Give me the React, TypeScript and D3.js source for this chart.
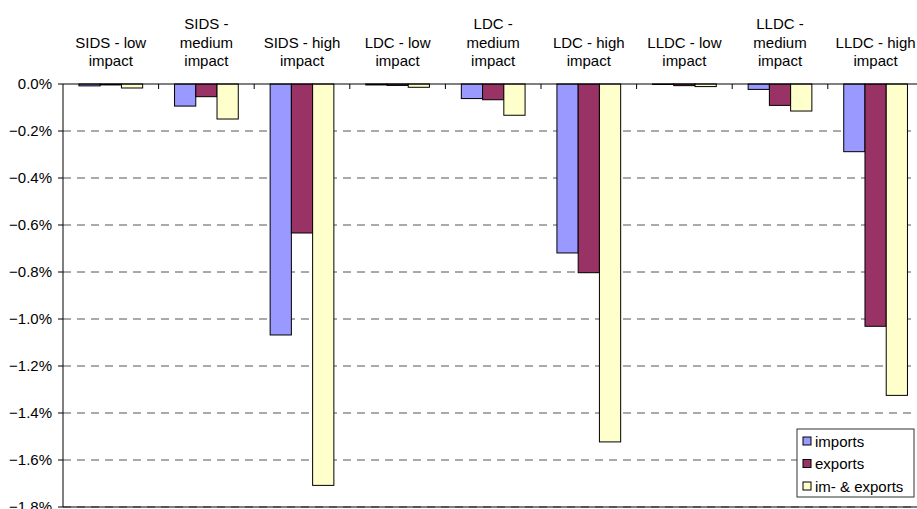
import React from 'react';
import * as d3 from 'd3';

const categories = [
  'SIDS - low impact', 'SIDS - medium impact', 'SIDS - high impact',
  'LDC - low impact', 'LDC - medium impact', 'LDC - high impact',
  'LLDC - low impact', 'LLDC - medium impact', 'LLDC - high impact',
];
const categoryLines = [
  ['SIDS - low', 'impact'], ['SIDS -', 'medium', 'impact'], ['SIDS - high', 'impact'],
  ['LDC - low', 'impact'], ['LDC -', 'medium', 'impact'], ['LDC - high', 'impact'],
  ['LLDC - low', 'impact'], ['LLDC -', 'medium', 'impact'], ['LLDC - high', 'impact'],
];
const seriesNames = ['imports', 'exports', 'im- & exports'];
const imports = [-0.008, -0.094, -1.068, -0.004, -0.062, -0.719, -0.002, -0.023, -0.288];
const exportsV = [-0.004, -0.054, -0.634, -0.006, -0.067, -0.803, -0.007, -0.091, -1.031];
const both = [-0.017, -0.149, -1.708, -0.014, -0.133, -1.523, -0.011, -0.115, -1.325];
const yTicks = [0, -0.2, -0.4, -0.6, -0.8, -1.0, -1.2, -1.4, -1.6, -1.8];
const colors = ['#9999FF', '#993366', '#FFFFCC'];

export default function App() {
  const W = 917, H = 509;
  const left = 63, top = 84, bottom = 507;
  const x = d3.scaleBand<string>().domain(categories).range([left, left + 9 * 95.6]).padding(0);
  const y = d3.scaleLinear().domain([0, -1.8]).range([top, bottom]);
  const bw = x.bandwidth();
  const barW = bw / 4.5;
  const inner = d3.scaleBand<string>().domain(seriesNames).range([0.75 * barW, 0.75 * barW + 3 * barW]).padding(0);
  const series = [imports, exportsV, both];
  const font = 'Liberation Sans, Arial, sans-serif';
  const fs = 15;
  return (
    <svg width={W} height={H} style={{ position: 'absolute', left: 0, top: 0, background: '#fff' }} fontFamily={font}>
      {yTicks.map((t, i) => (
        <g key={i}>
          {i > 0 && (
            <line x1={left} x2={W} y1={y(t)} y2={y(t)} stroke="#555" strokeWidth={1} strokeDasharray="8,6" />
          )}
          <line x1={left - 5} x2={left} y1={y(t)} y2={y(t)} stroke="#000" />
          <text x={52} y={y(t)} dy="0.35em" textAnchor="end" fontSize={fs} fill="#000">
            {d3.format('.1%')(t / 100)}
          </text>
        </g>
      ))}
      {categories.map((c, ci) => (
        <g key={c}>
          {series.map((s, si) => {
            const v = s[ci];
            const x0 = (x(c) as number) + (inner(seriesNames[si]) as number);
            return (
              <rect key={si} x={x0} y={y(0)} width={inner.bandwidth()} height={y(v) - y(0)}
                fill={colors[si]} stroke="#000" strokeWidth={1} />
            );
          })}
          {categoryLines[ci].map((ln, li) => (
            <text key={li} x={(x(c) as number) + bw / 2}
              y={66 - (categoryLines[ci].length - 1 - li) * 18.5}
              textAnchor="middle" fontSize={fs} fill="#000">{ln}</text>
          ))}
        </g>
      ))}
      {categories.slice(1).map((c) => (
        <line key={c} x1={x(c)} x2={x(c)} y1={top} y2={top + 5} stroke="#000" />
      ))}
      <line x1={left} x2={W} y1={bottom} y2={bottom} stroke="#000" />
      <line x1={left} x2={W} y1={top} y2={top} stroke="#000" />
      <line x1={left} x2={left} y1={top} y2={bottom} stroke="#000" />
      <g>
        <rect x={797} y={429} width={117} height={68} fill="#fff" stroke="#333" strokeWidth={1} />
        {seriesNames.map((n, i) => (
          <g key={n}>
            <rect x={803} y={437 + i * 22.5} width={8} height={8} fill={colors[i]} stroke="#000" />
            <text x={815} y={441.5 + i * 22.5} dy="0.35em" fontSize={fs} fill="#000">{n}</text>
          </g>
        ))}
      </g>
    </svg>
  );
}
